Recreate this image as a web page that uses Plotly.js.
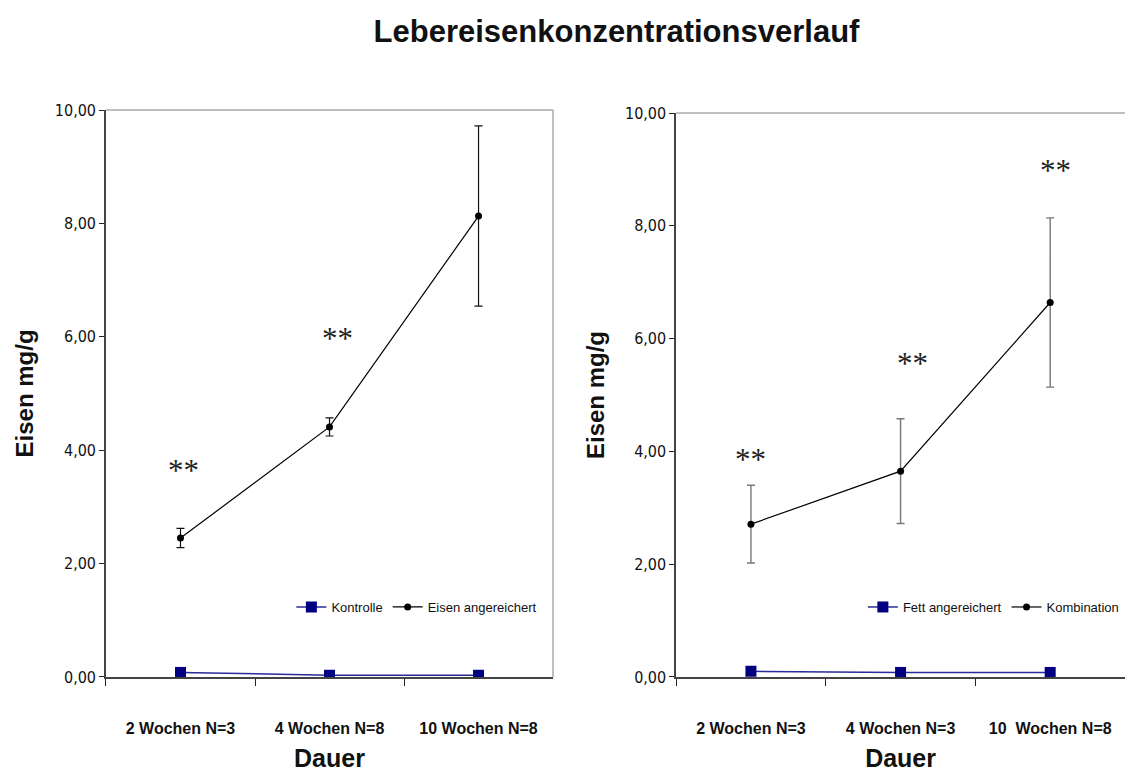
<!DOCTYPE html>
<html>
<head>
<meta charset="utf-8">
<script src="https://cdn.plot.ly/plotly-3.0.1.min.js"></script>
<style>html,body{margin:0;padding:0;background:#fff}#chart{width:1125px;height:772px}</style>
</head>
<body>
<div id="chart"></div>
<script>
// ---- data ----
const catsLeft = ["2 Wochen N=3", "4 Wochen N=8", "10 Wochen N=8"];
const catsRight = ["2 Wochen N=3", "4 Wochen N=3", "10\u00a0 Wochen N=8"];
const kontrolle = [0.08, 0.03, 0.03];
const eisen = [2.45, 4.41, 8.13];
const eisenErr = [0.17, 0.16, 1.59];
const fett = [0.10, 0.08, 0.08];
const kombination = [2.71, 3.65, 6.64];
const kombinationErr = [0.69, 0.93, 1.50];
const starsLeftY = [3.74, 6.07, 10.76];
const starsRightY = [3.97, 5.66, 9.08];
const starLabel = "**";
const yTicks = [0, 2, 4, 6, 8, 10];

// small horizontal nudges of the star labels (pixels)
const starsLeftShift = [3, 8, 1];
const starsRightShift = [0, 12, 5];

const narrow = "DejaVu Sans Condensed, Liberation Sans Narrow, sans-serif";
const sans = "Liberation Sans, Arial, sans-serif";

const traces = [
  {x: catsLeft, y: kontrolle, name: "Kontrolle", type: "scatter", mode: "lines+markers",
   xaxis: "x", yaxis: "y", legend: "legend",
   line: {color: "#2a2a9a", width: 1.5}, marker: {symbol: "square", size: 11, color: "#000080"}},
  {x: catsLeft, y: eisen, name: "Eisen angereichert", type: "scatter", mode: "lines+markers",
   xaxis: "x", yaxis: "y", legend: "legend",
   line: {color: "#000", width: 1.2}, marker: {symbol: "circle", size: 7, color: "#000"},
   error_y: {type: "data", array: eisenErr, visible: true, color: "#111", thickness: 1.2, width: 4}},
  {x: catsRight, y: fett, name: "Fett angereichert", type: "scatter", mode: "lines+markers",
   xaxis: "x2", yaxis: "y2", legend: "legend2",
   line: {color: "#2a2a9a", width: 1.5}, marker: {symbol: "square", size: 11, color: "#000080"}},
  {x: catsRight, y: kombination, name: "Kombination", type: "scatter", mode: "lines+markers",
   xaxis: "x2", yaxis: "y2", legend: "legend2",
   line: {color: "#000", width: 1.2}, marker: {symbol: "circle", size: 7, color: "#000"},
   error_y: {type: "data", array: kombinationErr, visible: true, color: "#777", thickness: 1.4, width: 4}}
];

function xAxis(domain, anchor, cats) {
  return {
    domain: domain, anchor: anchor, type: "category", categoryarray: cats, range: [-0.5, 2.5],
    automargin: false,
    tickson: "boundaries", ticks: "outside", ticklen: 7, tickcolor: "#222", tickwidth: 1,
    showline: true, linecolor: "#444", linewidth: 1.5, showgrid: false, zeroline: false,
    ticklabelstandoff: 36,
    tickfont: {family: sans, size: 16, color: "#111", weight: "bold"},
    title: {text: "<b>Dauer</b>", font: {family: sans, size: 25, color: "#111"}, standoff: 17}
  };
}
function yAxis(domain, anchor) {
  return {
    domain: domain, anchor: anchor, range: [0, 10], tickvals: yTicks, tickformat: ".2f",
    automargin: false,
    ticks: "outside", ticklen: 5, tickcolor: "#222", showline: true, linecolor: "#444", linewidth: 1.5,
    showgrid: false, zeroline: false,
    tickfont: {family: narrow, size: 16, color: "#111"},
    title: {text: "<b>Eisen mg/g</b>", font: {family: sans, size: 24, color: "#111"}, standoff: 14}
  };
}

const starFont = {family: "Liberation Serif, serif", size: 31, color: "#222"};
const annotations = [];
catsLeft.forEach((c, i) => annotations.push({x: c, y: starsLeftY[i], xref: "x", yref: "y", text: starLabel,
  showarrow: false, yanchor: "middle", yshift: -6, xshift: starsLeftShift[i], font: starFont}));
catsRight.forEach((c, i) => annotations.push({x: c, y: starsRightY[i], xref: "x2", yref: "y2", text: starLabel,
  showarrow: false, yanchor: "middle", yshift: -6, xshift: starsRightShift[i], font: starFont}));

const shapes = [
  {type: "line", xref: "x domain", yref: "y domain", x0: 0, x1: 1, y0: 1, y1: 1, line: {color: "#aaa", width: 1.5}},
  {type: "line", xref: "x domain", yref: "y domain", x0: 1, x1: 1, y0: 0, y1: 1, line: {color: "#aaa", width: 1.5}},
  {type: "line", xref: "x2 domain", yref: "y2 domain", x0: 0, x1: 1, y0: 1, y1: 1, line: {color: "#aaa", width: 1.5}}
];

const legendFont = {family: sans, size: 13, color: "#111"};
const layout = {
  width: 1125, height: 772,
  margin: {l: 0, r: 0, t: 0, b: 0, autoexpand: false},
  paper_bgcolor: "#fff", plot_bgcolor: "#fff",
  separators: ",.",
  title: {text: "<b>Lebereisenkonzentrationsverlauf</b>", font: {family: sans, size: 31, color: "#111"},
          x: 0.548, xanchor: "center", y: 0.96, yanchor: "middle", automargin: false},
  xaxis: xAxis([0.0942, 0.4916], "y", catsLeft),
  yaxis: yAxis([0.1231, 0.8575], "x"),
  xaxis2: xAxis([0.601, 1.0], "y2", catsRight),
  yaxis2: yAxis([0.1231, 0.8536], "x2"),
  legend: {x: 0.259, y: 0.2137, xanchor: "left", yanchor: "middle", orientation: "h",
           bgcolor: "rgba(0,0,0,0)", font: legendFont, itemwidth: 30, tracegroupgap: 0},
  legend2: {x: 0.999, y: 0.2137, xanchor: "right", yanchor: "middle", orientation: "h",
           bgcolor: "rgba(0,0,0,0)", font: legendFont, itemwidth: 30, tracegroupgap: 0},
  annotations: annotations,
  shapes: shapes,
  showlegend: true
};

Plotly.newPlot("chart", traces, layout, {displayModeBar: false, responsive: false});
</script>
</body>
</html>
